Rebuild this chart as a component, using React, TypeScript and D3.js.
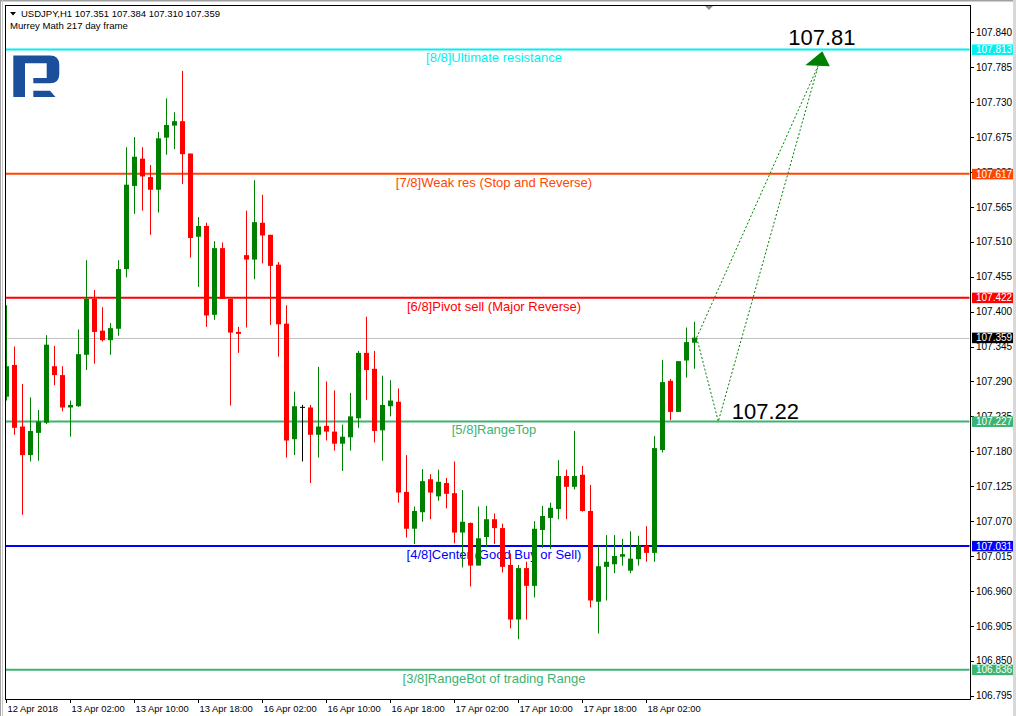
import React, { useEffect, useRef } from 'react';
import * as d3 from 'd3';

// USDJPY H1 candles, 12 Apr 18:00 .. 18 Apr 08:00
const opens = [
  107.266, 107.316, 107.219, 107.174, 107.209, 107.225, 107.314, 107.300, 107.249, 107.251,
  107.332, 107.420, 107.370, 107.355, 107.373, 107.467, 107.598, 107.641, 107.612, 107.592,
  107.674, 107.693, 107.700, 107.649, 107.518, 107.535, 107.395, 107.500, 107.420, 107.368,
  107.489, 107.482, 107.540, 107.521, 107.474, 107.381, 107.199, 107.250, 107.249, 107.206,
  107.220, 107.211, 107.192, 107.202, 107.232, 107.335, 107.310, 107.213, 107.251, 107.258,
  107.116, 107.058, 107.084, 107.136, 107.109, 107.130, 107.114, 107.052, 107.067, 107.000,
  107.045, 107.073, 107.059, 107.001, 106.915, 106.996, 106.968, 107.056, 107.075, 107.089,
  107.141, 107.124, 107.143, 107.086, 106.943, 106.998, 107.002, 107.014, 106.992, 107.010,
  107.031, 107.020, 107.182, 107.291, 107.242, 107.323, 107.351,
];
const highs = [
  107.410, 107.345, 107.286, 107.265, 107.245, 107.363, 107.346, 107.314, 107.260, 107.372,
  107.481, 107.434, 107.407, 107.382, 107.481, 107.659, 107.675, 107.659, 107.631, 107.683,
  107.736, 107.714, 107.779, 107.649, 107.549, 107.540, 107.511, 107.509, 107.420, 107.376,
  107.559, 107.607, 107.584, 107.521, 107.478, 107.410, 107.274, 107.253, 107.253, 107.313,
  107.290, 107.276, 107.222, 107.272, 107.338, 107.392, 107.338, 107.299, 107.292, 107.279,
  107.174, 107.093, 107.152, 107.144, 107.151, 107.138, 107.164, 107.119, 107.068, 107.093,
  107.094, 107.082, 107.066, 107.019, 107.001, 107.006, 107.070, 107.094, 107.099, 107.166,
  107.151, 107.212, 107.157, 107.127, 107.031, 107.048, 107.048, 107.042, 107.054, 107.047,
  107.062, 107.204, 107.324, 107.294, 107.322, 107.375, 107.384,
];
const lows = [
  107.260, 107.206, 107.080, 107.164, 107.165, 107.223, 107.284, 107.243, 107.203, 107.250,
  107.308, 107.318, 107.353, 107.332, 107.362, 107.454, 107.554, 107.559, 107.521, 107.556,
  107.647, 107.656, 107.601, 107.485, 107.439, 107.376, 107.387, 107.420, 107.252, 107.335,
  107.375, 107.451, 107.476, 107.379, 107.329, 107.170, 107.174, 107.164, 107.130, 107.170,
  107.197, 107.181, 107.149, 107.181, 107.217, 107.261, 107.194, 107.165, 107.235, 107.099,
  107.044, 107.034, 107.069, 107.073, 107.102, 107.090, 107.035, 106.997, 106.967, 107.000,
  107.029, 107.034, 106.989, 106.901, 106.884, 106.915, 106.950, 107.028, 107.026, 107.073,
  107.073, 107.120, 107.085, 106.934, 106.893, 106.945, 106.988, 107.000, 106.988, 107.000,
  107.006, 107.006, 107.178, 107.229, 107.242, 107.296, 107.310,
];
const closes = [
  107.314, 107.217, 107.174, 107.212, 107.227, 107.348, 107.300, 107.249, 107.253, 107.333,
  107.420, 107.368, 107.355, 107.374, 107.467, 107.600, 107.644, 107.613, 107.592, 107.673,
  107.694, 107.700, 107.648, 107.516, 107.535, 107.394, 107.500, 107.420, 107.367, 107.365,
  107.482, 107.541, 107.520, 107.472, 107.380, 107.197, 107.251, 107.250, 107.206, 107.219,
  107.211, 107.192, 107.203, 107.235, 107.335, 107.308, 107.212, 107.253, 107.260, 107.115,
  107.058, 107.086, 107.133, 107.115, 107.132, 107.113, 107.052, 107.069, 107.000, 107.043,
  107.073, 107.059, 106.998, 106.915, 106.996, 106.968, 107.058, 107.078, 107.091, 107.141,
  107.124, 107.141, 107.086, 106.945, 106.999, 107.006, 107.015, 107.018, 107.011, 107.031,
  107.020, 107.185, 107.289, 107.242, 107.322, 107.352, 107.359,
];

// one time label every 8 bars
const timeLabels = [
  '12 Apr 2018', '13 Apr 02:00', '13 Apr 10:00', '13 Apr 18:00', '16 Apr 02:00', '16 Apr 10:00',
  '16 Apr 18:00', '17 Apr 02:00', '17 Apr 10:00', '17 Apr 18:00', '18 Apr 02:00',
];
const barsPerLabel = 8;

const priceTicks = [
  107.840, 107.785, 107.730, 107.675, 107.620, 107.565, 107.510, 107.455, 107.400, 107.345,
  107.290, 107.235, 107.180, 107.125, 107.070, 107.015, 106.960, 106.905, 106.850, 106.795,
];

// Murrey Math levels
const levelPrices = [107.813, 107.617, 107.422, 107.227, 107.031, 106.836];
const levelNames = [
  '[8/8]Ultimate resistance',
  '[7/8]Weak res (Stop and Reverse)',
  '[6/8]Pivot sell (Major Reverse)',
  '[5/8]RangeTop',
  '[4/8]Center (Good Buy or Sell)',
  '[3/8]RangeBot of trading Range',
];
const levelColors = ['#00f0f0', '#ff4500', '#ff0000', '#3cb371', '#0000ff', '#3cb371'];

const bidPrice = 107.359;
const headerText = 'USDJPY,H1  107.351 107.384 107.310 107.359';
const subTitle = 'Murrey Math 217 day frame';

// forecast path: bar index / price
const forecastBars = [86.3, 89, 102];
const forecastPrices = [107.359, 107.227, 107.81];
const forecastLabels = ['107.22', '107.81'];

const FONT = '"Liberation Sans", Arial, sans-serif';

export default function App() {
  const svgRef = useRef<SVGSVGElement>(null);

  useEffect(() => {
    if (!svgRef.current) return;
    const svg = d3.select(svgRef.current);
    svg.selectAll('*').remove();

    const width = 1016;
    const height = 716;
    const plot = { left: 5, top: 5, right: 970, bottom: 699 };

    svg.attr('width', width).attr('height', height);

    const x = d3.scaleLinear().domain([0, 86]).range([6.3, 694.3]);
    const y = d3.scaleLinear().domain([106.795, 107.840]).range([695.7, 32.3]);

    svg.append('rect').attr('width', width).attr('height', height).attr('fill', '#fff');

    // window edges
    svg.append('rect').attr('x', 0).attr('y', 0).attr('width', width).attr('height', 1.5).attr('fill', '#a0a0a0');
    svg.append('rect').attr('x', 0).attr('y', 0).attr('width', 1).attr('height', height).attr('fill', '#a0a0a0');
    svg.append('rect').attr('x', 2).attr('y', 0).attr('width', 1).attr('height', height).attr('fill', '#c8c8c8');
    svg.append('rect').attr('x', 1013).attr('y', 0).attr('width', 3).attr('height', height).attr('fill', '#d8d8d8');

    svg.append('defs').append('clipPath').attr('id', 'plotClip')
      .append('rect')
      .attr('x', plot.left + 0.5).attr('y', plot.top + 0.5)
      .attr('width', plot.right - plot.left - 1).attr('height', plot.bottom - plot.top - 1);

    const g = svg.append('g').attr('clip-path', 'url(#plotClip)');

    // bid line
    g.append('line')
      .attr('x1', plot.left).attr('x2', plot.right)
      .attr('y1', Math.round(y(bidPrice)) + 0.5).attr('y2', Math.round(y(bidPrice)) + 0.5)
      .attr('stroke', '#c0c0c0').attr('stroke-width', 1);

    // murrey lines + labels
    levelPrices.forEach((p, i) => {
      const ly = y(p);
      g.append('line')
        .attr('x1', plot.left).attr('x2', plot.right)
        .attr('y1', ly).attr('y2', ly)
        .attr('stroke', levelColors[i]).attr('stroke-width', 2);
      g.append('text')
        .attr('x', 494).attr('y', ly + 13)
        .attr('text-anchor', 'middle')
        .style('font-family', FONT).style('font-size', '13px')
        .attr('fill', levelColors[i])
        .text(levelNames[i]);
    });

    // candles
    const idx = d3.range(opens.length);
    const candleColor = (i: number) =>
      closes[i] > opens[i] ? '#008000' : closes[i] < opens[i] ? '#ff0000' : '#000000';

    g.selectAll('.wick')
      .data(idx)
      .enter().append('line')
      .attr('class', 'wick')
      .attr('x1', (i) => Math.round(x(i)) + 0.5)
      .attr('x2', (i) => Math.round(x(i)) + 0.5)
      .attr('y1', (i) => y(highs[i]))
      .attr('y2', (i) => y(lows[i]))
      .attr('stroke', candleColor)
      .attr('stroke-width', 1);

    g.selectAll('.body')
      .data(idx)
      .enter().append('rect')
      .attr('class', 'body')
      .attr('x', (i) => Math.round(x(i)) - 2)
      .attr('width', 5)
      .attr('y', (i) => y(Math.max(opens[i], closes[i])))
      .attr('height', (i) => Math.max(1, Math.abs(y(opens[i]) - y(closes[i]))))
      .attr('fill', candleColor);

    // forecast dotted lines
    const pt = (k: number): [number, number] => [x(forecastBars[k]), y(forecastPrices[k])];
    const line = d3.line<[number, number]>();
    const dotted = (pts: [number, number][]) =>
      g.append('path')
        .attr('d', line(pts))
        .attr('fill', 'none')
        .attr('stroke', '#008000')
        .attr('stroke-width', 1)
        .attr('stroke-dasharray', '2,2');
    const tip = pt(2);
    const base: [number, number] = [tip[0] - 4, tip[1] + 14];
    dotted([pt(0), pt(1), base]);
    dotted([pt(0), base]);

    // arrow head
    g.append('path')
      .attr('d', `M${tip[0]},${tip[1]} L${tip[0] + 7.5},${tip[1] + 15} L${tip[0] - 17},${tip[1] + 14} Z`)
      .attr('fill', '#008000');

    // forecast labels
    svg.append('text')
      .attr('x', pt(1)[0] + 13.5).attr('y', pt(1)[1] - 2)
      .style('font-family', FONT).style('font-size', '22px')
      .attr('fill', '#000')
      .text(forecastLabels[0]);
    svg.append('text')
      .attr('x', tip[0] - 34).attr('y', tip[1] - 6.7)
      .style('font-family', FONT).style('font-size', '22px')
      .attr('fill', '#000')
      .text(forecastLabels[1]);

    // frame
    svg.append('rect')
      .attr('x', plot.left + 0.5).attr('y', plot.top + 0.5)
      .attr('width', plot.right - plot.left).attr('height', plot.bottom - plot.top)
      .attr('fill', 'none').attr('stroke', '#000').attr('stroke-width', 1);

    // shift marker
    svg.append('path').attr('d', 'M705,6 L713,6 L709,10 Z').attr('fill', '#909090');

    // right price axis
    priceTicks.forEach((v) => {
      const ty = Math.round(y(v)) + 0.5;
      svg.append('line')
        .attr('x1', plot.right + 1).attr('x2', plot.right + 4)
        .attr('y1', ty).attr('y2', ty)
        .attr('stroke', '#000');
      svg.append('text')
        .attr('x', 976).attr('y', y(v) + 3.7)
        .style('font-family', FONT).style('font-size', '10px')
        .attr('fill', '#000')
        .text(v.toFixed(3));
    });

    const boxes = [...levelPrices.map((p, i) => ({ p, c: levelColors[i] })), { p: bidPrice, c: '#000' }];
    boxes.forEach(({ p, c }) => {
      svg.append('rect')
        .attr('x', 972).attr('y', y(p) - 5).attr('width', 41).attr('height', 10.5)
        .attr('fill', c);
      svg.append('text')
        .attr('x', 976).attr('y', y(p) + 3.7)
        .style('font-family', FONT).style('font-size', '10px')
        .attr('fill', '#fff')
        .text(p.toFixed(3));
    });

    // bottom time axis
    timeLabels.forEach((t, j) => {
      const tx = Math.round(x(j * barsPerLabel)) + 0.5;
      svg.append('line')
        .attr('x1', tx).attr('x2', tx)
        .attr('y1', plot.bottom).attr('y2', plot.bottom + 4)
        .attr('stroke', '#000');
      svg.append('text')
        .attr('x', tx + 1).attr('y', 711.5)
        .style('font-family', FONT).style('font-size', '9.4px')
        .attr('fill', '#000')
        .text(t);
    });

    // header
    svg.append('path').attr('d', 'M10,12 L16,12 L13,15.5 Z').attr('fill', '#000');
    svg.append('text')
      .attr('x', 21).attr('y', 16.7)
      .style('font-family', FONT).style('font-size', '9.5px')
      .attr('fill', '#000')
      .text(headerText);
    svg.append('text')
      .attr('x', 10).attr('y', 29)
      .style('font-family', FONT).style('font-size', '9.6px')
      .attr('fill', '#000')
      .text(subTitle);

    // broker logo
    const logo = svg.append('g').attr('fill', '#1b4f9c');
    logo.append('path')
      .attr('d', 'M13.3,55.5 L50,55.5 Q59.3,55.5 59.3,65 L59.3,74 Q59.3,83.3 50,83.3 L33.3,83.3 L33.3,78 L46.7,78 L46.7,63.3 L25,63.3 L25,97 L13.3,97 Z');
    logo.append('path').attr('d', 'M33.3,90.7 L50,90.7 L55.5,97 L33.3,97 Z');
  }, []);

  return (
    <div style={{ position: 'absolute', left: 0, top: 0 }}>
      <svg ref={svgRef}></svg>
    </div>
  );
}
